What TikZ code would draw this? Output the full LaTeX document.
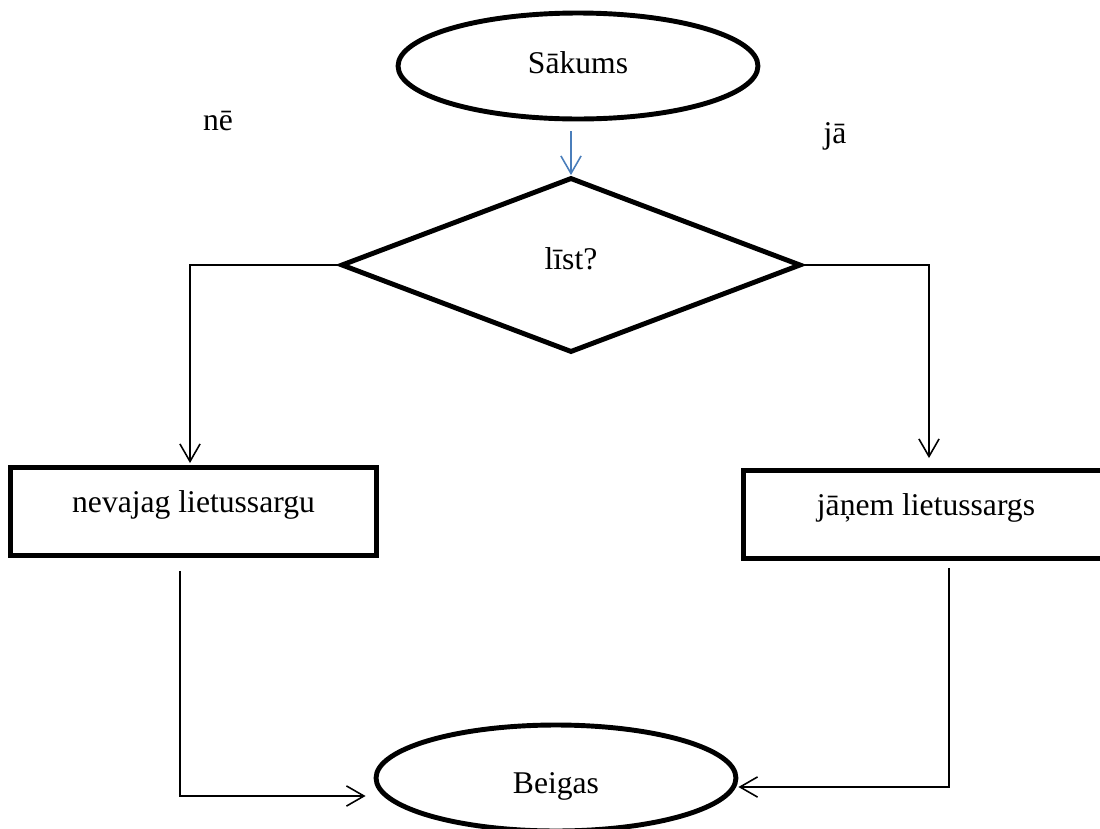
\documentclass[tikz,border=0pt]{standalone}
\usepackage{fontspec}
\setmainfont{Liberation Serif}
\usetikzlibrary{shapes.geometric,arrows.meta}
\definecolor{linkblue}{RGB}{74,126,187}
\begin{document}
\begin{tikzpicture}[x=0.02cm,y=-0.02cm,
  every node/.style={font=\fontsize{18}{22}\selectfont},
  terminal/.style={ellipse,draw,line width=2.8pt,inner sep=0pt,
    minimum width=7.2cm,minimum height=2.12cm},
  decision/.style={diamond,draw,line width=2.8pt,inner sep=0pt,
    minimum width=9.2cm,minimum height=3.5cm},
  process/.style={rectangle,draw,line width=2.8pt,inner sep=0pt,
    minimum width=7.32cm,minimum height=1.76cm,text depth=11pt},
  conn/.style={line width=0.9pt,-{Straight Barb[length=10pt,width=11.5pt,line width=0.9pt]}},
  startlink/.style={conn,draw=linkblue},
  branch/.style={anchor=base}]
  \useasboundingbox (0,0) rectangle (1100,829);

  % shapes of the flow chart
  \node[terminal,text depth=4.5pt] (start) at (578,66) {Sākums};
  \node[decision,text depth=7pt] (dia) at (571,265) {līst?};
  \node[process] (nobox) at (193.5,511.5) {nevajag lietussargu};
  \node[process] (yesbox) at (926,514.5) {jāņem lietussargs};
  \node[terminal,text height=21pt] (stop) at (556,778) {Beigas};

  % branch labels
  \node[branch] (nolbl) at (218,130) {nē};
  \node[branch] (yeslbl) at (835,143) {jā};

  % corner points of the connectors
  \coordinate (nl) at (190,265);
  \coordinate (jr) at (929,265);
  \coordinate (bl) at (180,796);
  \coordinate (br) at (949,787);

  % connectors
  \draw[startlink,shorten <=0.2cm] (dia.north |- start.south) -- (dia.north);
  \draw[conn,shorten >=0.04cm] (dia.west) -- (nl) -- (nl |- nobox.north);
  \draw[conn,shorten >=0.2cm] (dia.east) -- (jr) -- (jr |- yesbox.north);
  \draw[conn,shorten <=0.26cm,shorten >=0.16cm] (bl |- nobox.south) -- (bl) -- (bl -| stop.west);
  \draw[conn,shorten <=0.14cm] (br |- yesbox.south) -- (br) -- (br -| stop.east);
\end{tikzpicture}
\end{document}
